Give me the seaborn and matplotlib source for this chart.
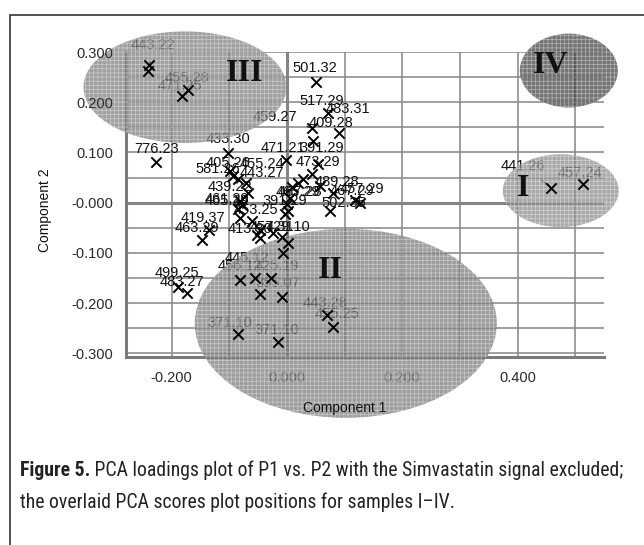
import numpy as np
import pandas as pd
import matplotlib
matplotlib.use("Agg")
import matplotlib.pyplot as plt
import seaborn as sns
from matplotlib.patches import Ellipse, Rectangle
from matplotlib import font_manager

# ---------------- data ----------------
mz_labels = ["443.22", "", "455.28", "471.25", "776.23", "433.30", "501.32", "517.29",
             "483.31", "409.28", "459.27", "471.21", "391.29", "473.29", "489.28", "",
             "457.29", "467.29", "502.35", "465.29", "467.28", "391.29",
             "405.26", "581.26", "455.24", "443.27", "439.22", "461.29", "465.29", "453.25",
             "", "413.30", "", "457.31", "", "", "429.10", "", "419.37", "463.29",
             "499.25", "483.27", "445.12", "456.12", "425.19", "355.07", "",
             "371.10", "371.10", "443.28", "455.25", "441.26", "457.24",
             "", "", "", "", ""]
comp1 = [-0.239, -0.241, -0.172, -0.182, -0.227, -0.102, 0.050, 0.071,
         0.090, 0.045, 0.043, -0.002, 0.054, 0.043, 0.080, 0.057,
         0.127, 0.118, 0.075, 0.005, 0.000, 0.002,
         -0.099, -0.094, -0.085, -0.071, -0.068, -0.082, -0.078, -0.085,
         -0.082, -0.061, -0.047, -0.052, -0.047, -0.024, -0.009, 0.002, -0.135, -0.147,
         -0.189, -0.173, -0.082, -0.056, -0.028, -0.047, -0.009,
         -0.085, -0.016, 0.069, 0.080, 0.458, 0.513,
         0.019, 0.028, 0.009, -0.003, -0.007]
comp2 = [0.275, 0.263, 0.224, 0.212, 0.081, 0.099, 0.240, 0.178,
         0.139, 0.123, 0.149, 0.085, 0.077, 0.057, 0.020, 0.034,
         0.000, 0.006, -0.016, 0.010, -0.002, -0.016,
         0.063, 0.053, 0.048, 0.040, 0.020, 0.004, -0.004, -0.012,
         -0.030, -0.036, -0.055, -0.065, -0.071, -0.061, -0.069, -0.081, -0.055, -0.075,
         -0.168, -0.180, -0.154, -0.149, -0.149, -0.182, -0.188,
         -0.261, -0.277, -0.224, -0.248, 0.030, 0.038,
         0.040, 0.048, 0.032, -0.022, -0.101]

# label placement (pixels, relative to the marker) and leader flags
label_dx = [4, 0, -1, -2, 0, 0, -1, -6,
            9, 18, -37, -3, 4, 6, 4, 0,
            2, -3, 14, 8, 13, -3,
            -2, -15, 24, 16, -18, -13, -15, 18,
            0, -2, 0, 15, 0, 0, 6, 0, -6, -5,
            -1, -5, 7, -15, 6, 18, 0,
            -8, -1, -2, 4, -28, -3,
            0, 0, 0, 0, 0]
label_dy = [20, 0, 12, 10, 13, 14, 14, 12,
            24, 18, 11, 12, 16, 12, 11, 0,
            14, 9, 8, 6, 12, 10,
            8, 7, 15, 10, 6, 2, 4, -1,
            0, -8, 0, 8, 0, 0, 10, 0, 12, 12,
            14, 11, 22, 12, 12, 11, 0,
            11, 12, 12, 13, 22, 11,
            0, 0, 0, 0, 0]
leader = {"443.22", "459.27", "441.26"}

# PCA score regions for samples I-IV
sample_names = ["I", "II", "III", "IV"]
score_c1 = [0.475, 0.102, -0.177, 0.489]
score_c2 = [0.024, -0.240, 0.230, 0.263]
score_w = [0.201, 0.524, 0.352, 0.170]
score_h = [0.145, 0.376, 0.222, 0.147]
sample_label_x = [0.409, 0.075, -0.073, 0.458]
sample_label_y = [0.028, -0.135, 0.257, 0.273]
sample_colors = ["#8a8a8a", "#777777", "#7c7c7c", "#3e3e3e"]

xtick_vals = [-0.2, 0.0, 0.2, 0.4]
xtick_labels = ["-0.200", "0.000", "0.200", "0.400"]
ytick_vals = [-0.3, -0.2, -0.1, 0.0, 0.1, 0.2, 0.3]
ytick_labels = ["-0.300", "-0.200", "-0.100", "-0.000", "0.100", "0.200", "0.300"]

caption_bold = "Figure 5."
caption_line1 = "PCA loadings plot of P1 vs. P2 with the Simvastatin signal excluded;"
caption_line2 = "the overlaid PCA scores plot positions for samples I\u2013IV."

# ---------------- style ----------------
sns.set_style("white")
plt.rcParams["font.family"] = ["Liberation Sans", "DejaVu Sans"]
plt.rcParams["hatch.linewidth"] = 0.5

W, H = 644, 545
fig = plt.figure(figsize=(W / 100, H / 100), dpi=100)
ax = fig.add_axes([126 / W, 1 - 357 / H, 478 / W, 305 / H])
ax.set_xlim(-0.2793, 0.550)
ax.set_ylim(-0.307, 0.300)
ax.patch.set_alpha(0)

grid_c = "#858585"
for gx in np.arange(-0.2, 0.55, 0.1):
    ax.axvline(gx, color=grid_c, lw=2.2 if abs(gx) < 1e-9 else 1.1, zorder=0.5)
for gy in np.arange(-0.30, 0.301, 0.05):
    ax.axhline(gy, color=grid_c, lw=2.2 if abs(gy) < 1e-9 else 1.1, zorder=0.5)

for s in ["top", "right"]:
    ax.spines[s].set_visible(False)
for s in ["left", "bottom"]:
    ax.spines[s].set_color("#7a7a7a")
    ax.spines[s].set_linewidth(2.2)

major_x = np.round(np.arange(-0.2, 0.55, 0.1), 2)
ax.set_xticks(major_x)
ax.set_xticklabels([xtick_labels[xtick_vals.index(v)] if v in xtick_vals else ""
                    for v in major_x])
ax.set_xticks(np.arange(-0.26, 0.55, 0.02), minor=True)
ax.set_yticks(ytick_vals)
ax.set_yticklabels(ytick_labels)
ax.set_yticks(np.arange(-0.305, 0.301, 0.005), minor=True)
ax.tick_params(axis="both", which="major", length=6, width=1.0, color="#7a7a7a",
               labelsize=10.5, labelcolor="#2a2a2a", pad=3, direction="out")
ax.tick_params(axis="both", which="minor", length=3, width=0.8, color="#7a7a7a",
               direction="out")
ax.tick_params(axis="x", pad=4)
ax.yaxis.set_zorder(3.5)

# point labels (under the score ellipses, so they grey out inside them)
for lab, x, y, dx, dy in zip(mz_labels, comp1, comp2, label_dx, label_dy):
    if not lab:
        continue
    kw = dict(xytext=(dx, dy), textcoords="offset pixels", ha="center", va="center",
              fontsize=10.5, color="#111111", zorder=2, annotation_clip=False)
    if lab in leader:
        kw["arrowprops"] = dict(arrowstyle="-", color="#222222", lw=0.9,
                                shrinkA=5, shrinkB=4)
    ax.annotate(lab, (x, y), **kw)

# score ellipses
for c1, c2, w, h, col in zip(score_c1, score_c2, score_w, score_h, sample_colors):
    ax.add_patch(Ellipse((c1, c2), w, h, facecolor=col, edgecolor="none", alpha=0.72,
                         zorder=3, clip_on=False))
    ax.add_patch(Ellipse((c1, c2), w, h, facecolor="none",
                         edgecolor=(1, 1, 1, 0.45), lw=0, hatch="++++",
                         zorder=3.1, clip_on=False))

# loadings markers
df = pd.DataFrame({"Component 1": comp1, "Component 2": comp2})
sns.scatterplot(data=df, x="Component 1", y="Component 2", marker="x", s=55,
                color="black", linewidth=1.4, ax=ax, zorder=4, clip_on=False)
ax.set_xlabel("")
ax.set_ylabel("")

for name, lx, ly in zip(sample_names, sample_label_x, sample_label_y):
    ax.text(lx, ly, name, fontsize=23, fontweight="bold", family="Liberation Serif",
            ha="center", va="center", color="#111111", zorder=5)

# axis titles
fig.text(345 / W, 1 - 408 / H, "Component 1", ha="center", va="center",
         fontsize=10, color="#111111", zorder=6)
fig.text(45 / W, 1 - 210 / H, "Component 2", ha="center", va="center",
         rotation=90, fontsize=10, color="#111111", zorder=6)

# outer frame
fig.add_artist(Rectangle((10 / W, -0.05), 1.1, 1 - 15 / H + 0.05,
                         transform=fig.transFigure, fill=False,
                         edgecolor="#333333", lw=1.2, zorder=10))

# caption
avail = {f.name for f in font_manager.fontManager.ttflist}
cap_font = next((f for f in ["Liberation Sans Narrow", "Roboto Condensed",
                             "Open Sans Condensed", "Liberation Sans"] if f in avail),
                "DejaVu Sans")
fig.canvas.draw()
rend = fig.canvas.get_renderer()
size0 = 13.0
t_b = fig.text(20 / W, 1 - 476 / H, caption_bold, fontsize=size0, fontweight="bold",
               family=cap_font, color="#222222", va="baseline")
t_r = fig.text(0, 1 - 476 / H, " " + caption_line1, fontsize=size0,
               family=cap_font, color="#222222", va="baseline")
wb = t_b.get_window_extent(rend).width
wr = t_r.get_window_extent(rend).width
size = size0 * 603.0 / (wb + wr)
t_b.set_fontsize(size)
t_r.set_fontsize(size)
fig.canvas.draw()
wb = t_b.get_window_extent(rend).width
t_r.set_x((20 + wb) / W)
fig.text(20 / W, 1 - 508 / H, caption_line2, fontsize=size, family=cap_font,
         color="#222222", va="baseline")

fig.savefig("out.png", dpi=100)
